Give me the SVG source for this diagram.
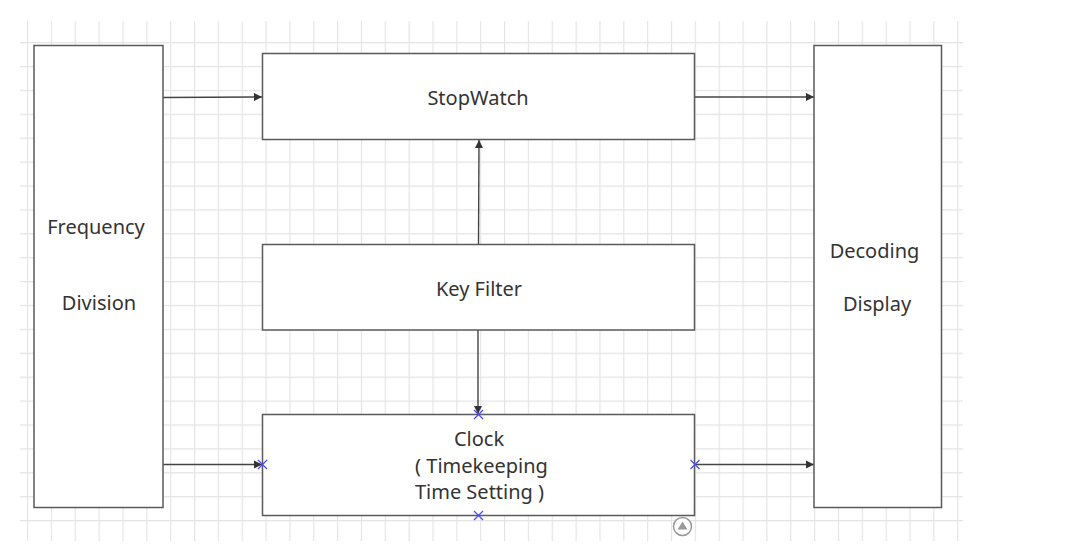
<svg xmlns="http://www.w3.org/2000/svg" width="1067" height="555" viewBox="0 0 1067 555">
  <style>
    .box { fill: #ffffff; stroke: #5a5a5a; stroke-width: 1.5; }
    .lbl { font-family: "Noto Sans", "Open Sans", sans-serif; font-size: 20px; fill: #333333; text-anchor: middle; }
    .conn { stroke: #444444; stroke-width: 1.4; fill: none; marker-end: url(#arrow); }
    .mark { stroke: #4d4dff; stroke-width: 1.3; fill: none; }
  </style>
  <defs>
    <pattern id="grid" x="27" y="42" width="23.85" height="23.9" patternUnits="userSpaceOnUse">
      <path d="M0.5 0 V23.9 M0 0.5 H23.85" stroke="#e4e4e4" stroke-width="1.3" fill="none"/>
    </pattern>
    <marker id="arrow" viewBox="0 0 10 10" refX="10" refY="5" markerWidth="6" markerHeight="6" markerUnits="strokeWidth" orient="auto">
      <path d="M0 0 L10 5 L0 10 Z" fill="#333333"/>
    </marker>
  </defs>
  <rect width="1067" height="555" fill="#ffffff"/>
  <rect x="20" y="21" width="943" height="520" fill="url(#grid)"/>

  <g id="connectors">
    <line class="conn" x1="163" y1="97.5" x2="262" y2="97"/>
    <line class="conn" x1="695" y1="97" x2="814" y2="97"/>
    <line class="conn" x1="478.5" y1="244" x2="479" y2="140"/>
    <line class="conn" x1="478" y1="330" x2="478" y2="414"/>
    <line class="conn" x1="163" y1="464.5" x2="262" y2="464.5"/>
    <line class="conn" x1="695" y1="464.5" x2="814" y2="464.5"/>
  </g>

  <g id="frequency-division">
    <rect class="box" x="34" y="45.5" width="129" height="462"/>
    <text class="lbl" x="96" y="234">Frequency</text>
    <text class="lbl" x="99" y="309.5">Division</text>
  </g>

  <g id="stopwatch">
    <rect class="box" x="262.5" y="53.5" width="432" height="86"/>
    <text class="lbl" x="478" y="105">StopWatch</text>
  </g>

  <g id="key-filter">
    <rect class="box" x="262.5" y="244.5" width="432" height="85.5"/>
    <text class="lbl" x="479" y="296">Key Filter</text>
  </g>

  <g id="clock">
    <rect class="box" x="262.5" y="414.5" width="432" height="101"/>
    <text class="lbl" x="479" y="446">Clock</text>
    <text class="lbl" x="481.5" y="472.5">( Timekeeping</text>
    <text class="lbl" x="479.5" y="498.5">Time Setting )</text>
    <g class="mark">
      <path d="M474 410 l9 9 M483 410 l-9 9"/>
      <path d="M258 460 l9 9 M267 460 l-9 9"/>
      <path d="M690.5 460 l9 9 M699.5 460 l-9 9"/>
      <path d="M474 511 l9 9 M483 511 l-9 9"/>
    </g>
  </g>

  <g id="decoding-display">
    <rect class="box" x="814" y="45.5" width="127.5" height="462"/>
    <text class="lbl" x="874.5" y="258">Decoding</text>
    <text class="lbl" x="877" y="310.5">Display</text>
  </g>

  <g id="expand-icon">
    <circle cx="682.5" cy="526.5" r="9" fill="#ffffff" stroke="#9a9a9a" stroke-width="1.5"/>
    <path d="M682.5 521.5 L687.5 529.5 L677.5 529.5 Z" fill="#9a9a9a"/>
  </g>
</svg>
